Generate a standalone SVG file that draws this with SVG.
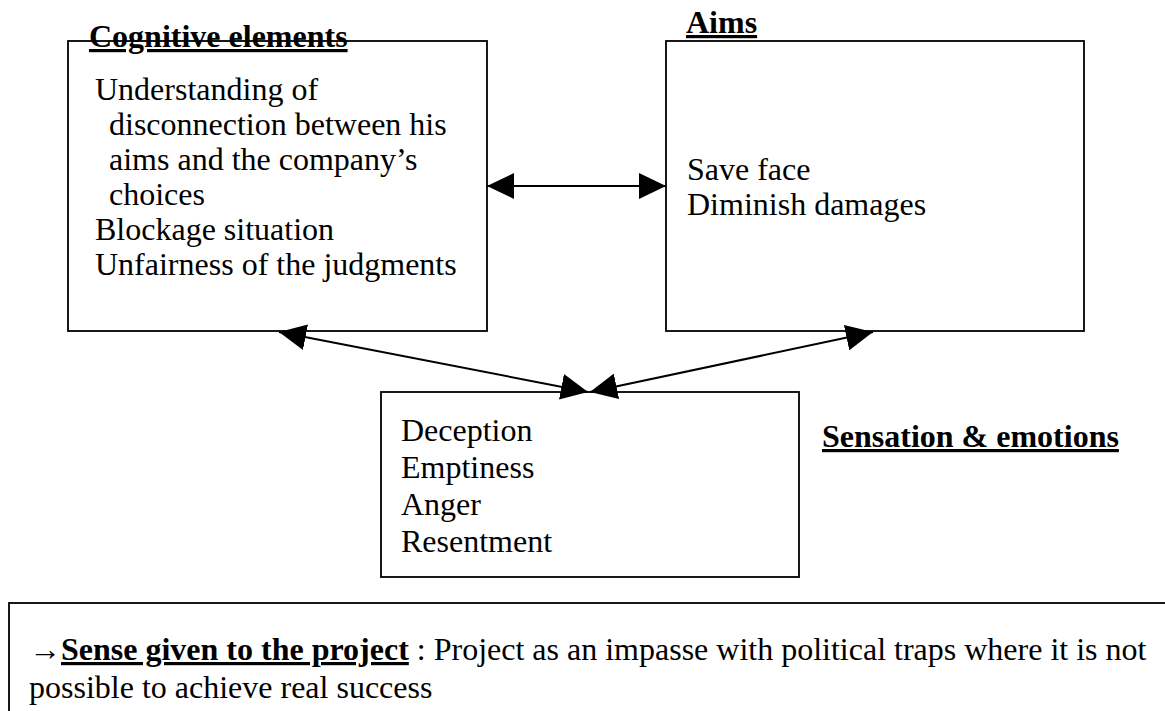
<svg xmlns="http://www.w3.org/2000/svg" width="1165" height="711" viewBox="0 0 1165 711">
  <style>
    .box { fill: #fff; stroke: #000; stroke-width: 1.8; }
    .t { font-family: "Liberation Serif", "Times New Roman", serif; font-size: 32px; fill: #000; }
    .b { font-weight: bold; text-decoration: underline; }
    .link { stroke: #000; stroke-width: 2; fill: none; marker-start: url(#head); marker-end: url(#head); }
  </style>
  <defs>
    <marker id="head" viewBox="0 0 27 26" refX="27" refY="13" markerWidth="27" markerHeight="26" markerUnits="userSpaceOnUse" orient="auto-start-reverse">
      <path d="M0,0 L27,13 L0,26 z" fill="#000"/>
    </marker>
  </defs>
  <rect width="1165" height="711" fill="#fff"/>

  <!-- cognitive elements -->
  <g id="cognitive">
    <rect class="box" x="68" y="41" width="419" height="290"/>
    <text class="t b" x="89" y="47">Cognitive elements</text>
    <text class="t" x="95" y="100">Understanding of</text>
    <text class="t" x="109" y="135">disconnection between his</text>
    <text class="t" x="109" y="170">aims and the company’s</text>
    <text class="t" x="109" y="205">choices</text>
    <text class="t" x="95" y="240">Blockage situation</text>
    <text class="t" x="95" y="275">Unfairness of the judgments</text>
  </g>

  <!-- aims -->
  <g id="aims">
    <rect class="box" x="666" y="41" width="418" height="290"/>
    <text class="t b" x="686" y="33">Aims</text>
    <text class="t" x="687" y="180">Save face</text>
    <text class="t" x="687" y="215">Diminish damages</text>
  </g>

  <!-- sensation & emotions -->
  <g id="emotions">
    <rect class="box" x="381" y="392" width="418" height="185"/>
    <text class="t" x="401" y="441">Deception</text>
    <text class="t" x="401" y="478">Emptiness</text>
    <text class="t" x="401" y="515">Anger</text>
    <text class="t" x="401" y="552">Resentment</text>
    <text class="t b" x="822" y="447">Sensation &amp; emotions</text>
  </g>

  <!-- sense given to the project -->
  <g id="sense">
    <rect class="box" x="9" y="603" width="1180" height="140"/>
    <text class="t" x="29" y="660">→<tspan class="b">Sense given to the project</tspan> : Project as an impasse with political traps where it is not</text>
    <text class="t" x="29" y="698">possible to achieve real success</text>
  </g>

  <!-- connectors -->
  <g id="connectors">
    <line class="link" x1="487" y1="186" x2="666" y2="186"/>
    <line class="link" x1="279" y1="332" x2="588" y2="392"/>
    <line class="link" x1="590" y1="392" x2="873" y2="332"/>
  </g>
</svg>
